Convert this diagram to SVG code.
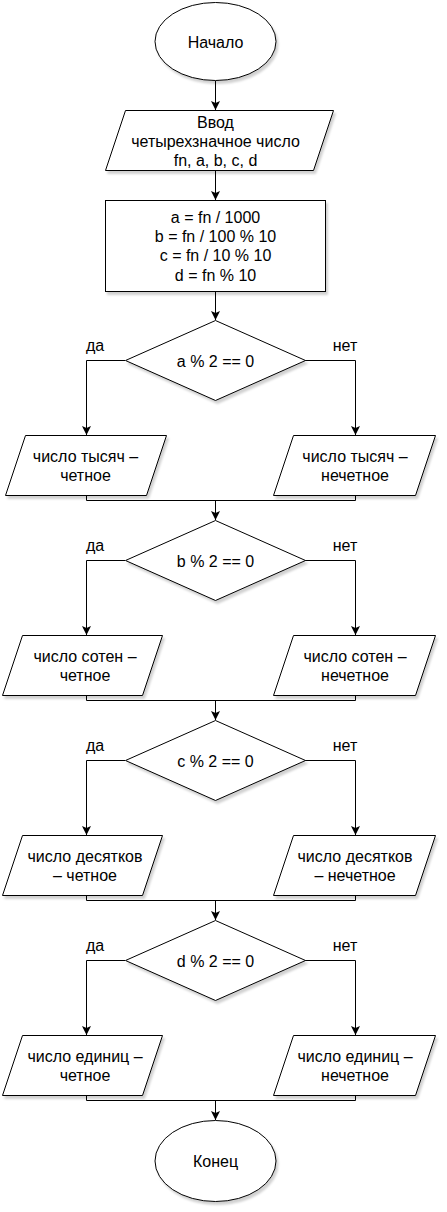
<svg xmlns="http://www.w3.org/2000/svg" width="447" height="1212" viewBox="0 0 447 1212">
<defs>
<style>
.s{fill:#fff;stroke:#000;stroke-width:1;filter:url(#sh)}
.t{font-family:"Liberation Sans",Arial,sans-serif;font-size:16px;fill:#000;text-anchor:middle}
.c{fill:none;stroke:#000;stroke-width:1}
</style>
<filter id="sh" x="-10%" y="-10%" width="130%" height="140%">
<feDropShadow dx="2" dy="3" stdDeviation="1.2" flood-color="#000" flood-opacity="0.18"/>
</filter>
<marker id="a" markerUnits="userSpaceOnUse" markerWidth="10" markerHeight="10" refX="9" refY="4.5" orient="auto">
<path d="M0,0 L9,4.5 L0,9 L2,4.5 Z" fill="#000"/>
</marker>
</defs>
<rect width="447" height="1212" fill="#fff"/>
<g id="connectors">
<path class="c" d="M215.5 81 V110" marker-end="url(#a)"/>
<path class="c" d="M215.5 170 V200" marker-end="url(#a)"/>
<path class="c" d="M215.5 292 V320" marker-end="url(#a)"/>
<path class="c" d="M125 360.5 H86.5 V435" marker-end="url(#a)"/>
<path class="c" d="M305 360.5 H355.5 V435" marker-end="url(#a)"/>
<path class="c" d="M86.5 495 V500.5 H355.5 V495"/>
<path class="c" d="M215.5 500 V520" marker-end="url(#a)"/>
<path class="c" d="M125 560.5 H86.5 V635" marker-end="url(#a)"/>
<path class="c" d="M305 560.5 H355.5 V635" marker-end="url(#a)"/>
<path class="c" d="M86.5 695 V700.5 H355.5 V695"/>
<path class="c" d="M215.5 700 V720" marker-end="url(#a)"/>
<path class="c" d="M125 760.5 H86.5 V835" marker-end="url(#a)"/>
<path class="c" d="M305 760.5 H355.5 V835" marker-end="url(#a)"/>
<path class="c" d="M86.5 895 V900.5 H355.5 V895"/>
<path class="c" d="M215.5 900 V920" marker-end="url(#a)"/>
<path class="c" d="M125 960.5 H86.5 V1035" marker-end="url(#a)"/>
<path class="c" d="M305 960.5 H355.5 V1035" marker-end="url(#a)"/>
<path class="c" d="M86.5 1095 V1100.5 H355.5 V1095"/>
<path class="c" d="M215.5 1100 V1120" marker-end="url(#a)"/>
<text class="t" x="95" y="351">да</text>
<text class="t" x="345" y="351">нет</text>
<text class="t" x="95" y="551">да</text>
<text class="t" x="345" y="551">нет</text>
<text class="t" x="95" y="751">да</text>
<text class="t" x="345" y="751">нет</text>
<text class="t" x="95" y="951">да</text>
<text class="t" x="345" y="951">нет</text>
</g>
<g id="start">
<ellipse class="s" cx="215.5" cy="41.5" rx="60.5" ry="39"/>
<text class="t" x="215.5" y="47.5">Начало</text>
</g>
<g id="input">
<polygon class="s" points="125.5,110.5 333.5,110.5 313.5,170.5 105.5,170.5"/>
<text class="t" x="215.5" y="127.5">Ввод</text>
<text class="t" x="215.5" y="146.5">четырехзначное число</text>
<text class="t" x="215.5" y="165.5">fn, a, b, c, d</text>
</g>
<g id="calc">
<rect class="s" x="105.5" y="200.5" width="220" height="91"/>
<text class="t" x="215.5" y="222.5">a = fn / 1000</text>
<text class="t" x="215.5" y="241.5">b = fn / 100 % 10</text>
<text class="t" x="215.5" y="261">c = fn / 10 % 10</text>
<text class="t" x="215.5" y="280.5">d = fn % 10</text>
</g>
<g id="cond-a">
<polygon class="s" points="215.5,320.5 305.5,360.5 215.5,400.5 125.5,360.5"/>
<text class="t" x="215.5" y="366.5">a % 2 == 0</text>
</g>
<g id="a-even">
<polygon class="s" points="25.5,435.5 166.5,435.5 146.5,495.5 5.5,495.5"/>
<text class="t" x="85.5" y="461.5">число тысяч –</text>
<text class="t" x="85.5" y="480.5">четное</text>
</g>
<g id="a-odd">
<polygon class="s" points="293.5,435.5 435.5,435.5 415.5,495.5 273.5,495.5"/>
<text class="t" x="355" y="461.5">число тысяч –</text>
<text class="t" x="355" y="480.5">нечетное</text>
</g>
<g id="cond-b">
<polygon class="s" points="215.5,520.5 305.5,560.5 215.5,600.5 125.5,560.5"/>
<text class="t" x="215.5" y="566.5">b % 2 == 0</text>
</g>
<g id="b-even">
<polygon class="s" points="22.5,635.5 162.5,635.5 142.5,695.5 2.5,695.5"/>
<text class="t" x="85" y="661.5">число сотен –</text>
<text class="t" x="85" y="680.5">четное</text>
</g>
<g id="b-odd">
<polygon class="s" points="293.5,635.5 435.5,635.5 415.5,695.5 273.5,695.5"/>
<text class="t" x="355" y="661.5">число сотен –</text>
<text class="t" x="355" y="680.5">нечетное</text>
</g>
<g id="cond-c">
<polygon class="s" points="215.5,720.5 305.5,760.5 215.5,800.5 125.5,760.5"/>
<text class="t" x="215.5" y="766.5">c % 2 == 0</text>
</g>
<g id="c-even">
<polygon class="s" points="22.5,835.5 162.5,835.5 142.5,895.5 2.5,895.5"/>
<text class="t" x="85" y="861.5">число десятков</text>
<text class="t" x="85" y="880.5">– четное</text>
</g>
<g id="c-odd">
<polygon class="s" points="293.5,835.5 435.5,835.5 415.5,895.5 273.5,895.5"/>
<text class="t" x="355" y="861.5">число десятков</text>
<text class="t" x="355" y="880.5">– нечетное</text>
</g>
<g id="cond-d">
<polygon class="s" points="215.5,920.5 305.5,960.5 215.5,1000.5 125.5,960.5"/>
<text class="t" x="215.5" y="966.5">d % 2 == 0</text>
</g>
<g id="d-even">
<polygon class="s" points="22.5,1035.5 162.5,1035.5 142.5,1095.5 2.5,1095.5"/>
<text class="t" x="85" y="1061.5">число единиц –</text>
<text class="t" x="85" y="1080.5">четное</text>
</g>
<g id="d-odd">
<polygon class="s" points="293.5,1035.5 435.5,1035.5 415.5,1095.5 273.5,1095.5"/>
<text class="t" x="355" y="1061.5">число единиц –</text>
<text class="t" x="355" y="1080.5">нечетное</text>
</g>
<g id="end">
<ellipse class="s" cx="215.5" cy="1161" rx="60.5" ry="40.5"/>
<text class="t" x="215.5" y="1166.5">Конец</text>
</g>
</svg>
